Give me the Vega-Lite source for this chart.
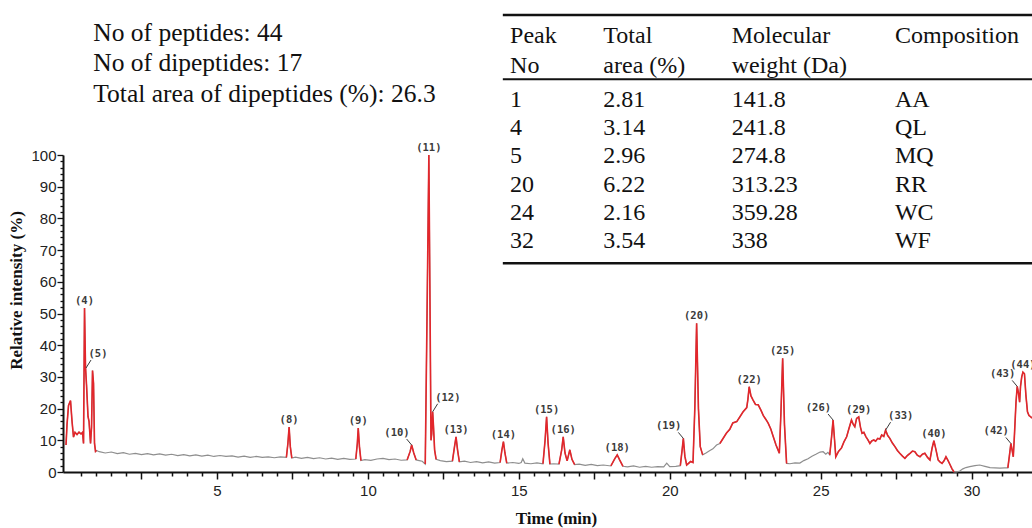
{
  "$schema": "https://vega.github.io/schema/vega-lite/v6.json",
  "width": 969,
  "height": 317,
  "autosize": {"type": "none"},
  "padding": {"left": 63, "top": 155, "right": 0, "bottom": 56},
  "background": "white",
  "config": {"view": {"stroke": null}, "axis": {"grid": false}},
  "datasets": {
    "trace": [
      {"t":0,"i":8.5,"s":"p1"},{"t":0.033,"i":15,"s":"p1"},{"t":0.083,"i":21,"s":"p1"},{"t":0.149,"i":22.5,"s":"p1"},{"t":0.199,"i":16,"s":"p1"},{"t":0.248,"i":11,"s":"p1"},{"t":0.298,"i":12.5,"s":"p1"},{"t":0.364,"i":11.8,"s":"p1"},{"t":0.431,"i":12.6,"s":"p1"},{"t":0.497,"i":12,"s":"p1"},{"t":0.547,"i":12.5,"s":"p1"},{"t":0.58,"i":9,"s":"p1"},{"t":0.613,"i":51.7,"s":"p1"},{"t":0.646,"i":33,"s":"p1"},{"t":0.679,"i":27.5,"s":"p1"},{"t":0.729,"i":17.5,"s":"p1"},{"t":0.762,"i":16,"s":"p1"},{"t":0.812,"i":9,"s":"p1"},{"t":0.845,"i":14,"s":"p1"},{"t":0.878,"i":32,"s":"p1"},{"t":0.911,"i":28,"s":"p1"},{"t":0.944,"i":9,"s":"p1"},{"t":0.977,"i":6.5,"s":"p1"},{"t":1.01,"i":6.8,"s":"p1"},
      {"t":1.1,"i":6.4,"s":"g"},{"t":1.3,"i":6.0,"s":"g"},{"t":1.5,"i":6.3,"s":"g"},{"t":1.7,"i":5.8,"s":"g"},{"t":1.9,"i":6.1,"s":"g"},{"t":2.1,"i":5.6,"s":"g"},{"t":2.3,"i":5.9,"s":"g"},{"t":2.5,"i":5.5,"s":"g"},{"t":2.7,"i":5.8,"s":"g"},{"t":2.9,"i":5.4,"s":"g"},{"t":3.1,"i":5.7,"s":"g"},{"t":3.3,"i":5.3,"s":"g"},{"t":3.5,"i":5.6,"s":"g"},{"t":3.7,"i":5.2,"s":"g"},{"t":3.9,"i":5.5,"s":"g"},{"t":4.1,"i":5.1,"s":"g"},{"t":4.3,"i":5.4,"s":"g"},{"t":4.5,"i":5.0,"s":"g"},{"t":4.7,"i":5.3,"s":"g"},{"t":4.9,"i":4.9,"s":"g"},{"t":5.1,"i":5.2,"s":"g"},{"t":5.3,"i":4.9,"s":"g"},{"t":5.5,"i":5.1,"s":"g"},{"t":5.7,"i":4.7,"s":"g"},{"t":5.9,"i":5.0,"s":"g"},{"t":6.1,"i":4.6,"s":"g"},{"t":6.3,"i":4.9,"s":"g"},{"t":6.5,"i":4.6,"s":"g"},{"t":6.7,"i":4.8,"s":"g"},{"t":6.9,"i":4.5,"s":"g"},{"t":7.1,"i":4.8,"s":"g"},
      {"t":7.3,"i":4.6,"s":"p8"},{"t":7.35,"i":9,"s":"p8"},{"t":7.39,"i":14.2,"s":"p8"},{"t":7.43,"i":8,"s":"p8"},{"t":7.48,"i":4.4,"s":"p8"},
      {"t":7.6,"i":4.7,"s":"g"},{"t":7.8,"i":4.3,"s":"g"},{"t":8.0,"i":4.6,"s":"g"},{"t":8.2,"i":4.2,"s":"g"},{"t":8.4,"i":4.5,"s":"g"},{"t":8.6,"i":4.1,"s":"g"},{"t":8.8,"i":4.4,"s":"g"},{"t":9.0,"i":4.0,"s":"g"},{"t":9.2,"i":4.3,"s":"g"},{"t":9.4,"i":4.0,"s":"g"},
      {"t":9.6,"i":4.1,"s":"p9"},{"t":9.65,"i":9,"s":"p9"},{"t":9.68,"i":13.9,"s":"p9"},{"t":9.72,"i":8,"s":"p9"},{"t":9.77,"i":3.6,"s":"p9"},
      {"t":9.9,"i":3.9,"s":"g"},{"t":10.1,"i":3.7,"s":"g"},{"t":10.3,"i":4.1,"s":"g"},{"t":10.5,"i":4.3,"s":"g"},{"t":10.7,"i":3.9,"s":"g"},{"t":10.9,"i":4.1,"s":"g"},{"t":11.1,"i":3.7,"s":"g"},
      {"t":11.3,"i":3.8,"s":"p10"},{"t":11.4,"i":6.5,"s":"p10"},{"t":11.45,"i":8.5,"s":"p10"},{"t":11.52,"i":6,"s":"p10"},{"t":11.6,"i":3.8,"s":"p10"},
      {"t":11.7,"i":3.6,"s":"g"},{"t":11.8,"i":3.4,"s":"g"},
      {"t":11.9,"i":2.5,"s":"p11"},{"t":11.96,"i":50,"s":"p11"},{"t":12.02,"i":100,"s":"p11"},{"t":12.06,"i":50,"s":"p11"},{"t":12.09,"i":10,"s":"p11"},{"t":12.115,"i":12,"s":"p11"},{"t":12.146,"i":19,"s":"p11"},{"t":12.17,"i":15,"s":"p11"},{"t":12.21,"i":7,"s":"p11"},{"t":12.26,"i":4.0,"s":"p11"},
      {"t":12.4,"i":3.6,"s":"g"},{"t":12.6,"i":3.3,"s":"g"},
      {"t":12.8,"i":3.4,"s":"p13"},{"t":12.87,"i":8,"s":"p13"},{"t":12.92,"i":11.1,"s":"p13"},{"t":12.97,"i":7,"s":"p13"},{"t":13.03,"i":3.2,"s":"p13"},
      {"t":13.2,"i":3.4,"s":"g"},{"t":13.4,"i":3.0,"s":"g"},{"t":13.6,"i":3.3,"s":"g"},{"t":13.8,"i":2.9,"s":"g"},{"t":14.0,"i":3.2,"s":"g"},{"t":14.2,"i":2.8,"s":"g"},
      {"t":14.38,"i":3.0,"s":"p14"},{"t":14.44,"i":7,"s":"p14"},{"t":14.49,"i":9.6,"s":"p14"},{"t":14.54,"i":6,"s":"p14"},{"t":14.6,"i":2.8,"s":"p14"},
      {"t":14.8,"i":3.0,"s":"g"},{"t":15.0,"i":2.7,"s":"g"},{"t":15.08,"i":3.0,"s":"g"},{"t":15.13,"i":4.2,"s":"g"},{"t":15.2,"i":2.8,"s":"g"},{"t":15.4,"i":2.6,"s":"g"},{"t":15.6,"i":2.9,"s":"g"},
      {"t":15.8,"i":2.6,"s":"p15"},{"t":15.87,"i":10,"s":"p15"},{"t":15.92,"i":17.4,"s":"p15"},{"t":15.97,"i":9,"s":"p15"},{"t":16.03,"i":2.5,"s":"p15"},
      {"t":16.15,"i":2.6,"s":"g"},
      {"t":16.33,"i":2.5,"s":"p16"},{"t":16.42,"i":7,"s":"p16"},{"t":16.47,"i":11.1,"s":"p16"},{"t":16.53,"i":6,"s":"p16"},{"t":16.6,"i":3.5,"s":"p16"},{"t":16.69,"i":7,"s":"p16"},{"t":16.76,"i":4,"s":"p16"},{"t":16.85,"i":2.3,"s":"p16"},
      {"t":17.0,"i":2.5,"s":"g"},{"t":17.2,"i":2.1,"s":"g"},{"t":17.4,"i":2.4,"s":"g"},{"t":17.6,"i":2.0,"s":"g"},{"t":17.8,"i":2.2,"s":"g"},
      {"t":18.05,"i":1.9,"s":"p18"},{"t":18.18,"i":4.2,"s":"p18"},{"t":18.26,"i":5.4,"s":"p18"},{"t":18.34,"i":3.8,"s":"p18"},{"t":18.45,"i":1.8,"s":"p18"},
      {"t":18.6,"i":1.6,"s":"g"},{"t":18.8,"i":1.9,"s":"g"},{"t":19.0,"i":1.5,"s":"g"},{"t":19.2,"i":1.8,"s":"g"},{"t":19.4,"i":1.5,"s":"g"},{"t":19.6,"i":1.7,"s":"g"},{"t":19.8,"i":1.6,"s":"g"},{"t":19.9,"i":2.8,"s":"g"},{"t":20.0,"i":1.7,"s":"g"},{"t":20.2,"i":1.8,"s":"g"},
      {"t":20.35,"i":2.0,"s":"p19"},{"t":20.41,"i":7,"s":"p19"},{"t":20.45,"i":10.6,"s":"p19"},{"t":20.5,"i":5,"s":"p19"},{"t":20.56,"i":2.2,"s":"p19"},{"t":20.69,"i":3.3,"s":"p19"},{"t":20.77,"i":3.0,"s":"p19"},{"t":20.83,"i":20,"s":"p19"},{"t":20.89,"i":46.9,"s":"p19"},{"t":20.95,"i":20,"s":"p19"},{"t":21.01,"i":8,"s":"p19"},{"t":21.09,"i":5.4,"s":"p19"},
      {"t":21.2,"i":6.0,"s":"g"},{"t":21.33,"i":6.8,"s":"g"},{"t":21.43,"i":7.3,"s":"g"},{"t":21.55,"i":8.5,"s":"g"},
      {"t":21.66,"i":9.0,"s":"p22"},{"t":21.76,"i":10.5,"s":"p22"},{"t":21.88,"i":12.3,"s":"p22"},{"t":21.99,"i":13.5,"s":"p22"},{"t":22.09,"i":15.5,"s":"p22"},{"t":22.22,"i":15.9,"s":"p22"},{"t":22.33,"i":17.5,"s":"p22"},{"t":22.43,"i":19,"s":"p22"},{"t":22.55,"i":20.3,"s":"p22"},{"t":22.59,"i":23,"s":"p22"},{"t":22.63,"i":26.9,"s":"p22"},{"t":22.69,"i":24,"s":"p22"},{"t":22.76,"i":22.7,"s":"p22"},{"t":22.84,"i":21.3,"s":"p22"},{"t":22.93,"i":21.2,"s":"p22"},{"t":23.02,"i":19.5,"s":"p22"},{"t":23.1,"i":17.8,"s":"p22"},{"t":23.19,"i":16.5,"s":"p22"},{"t":23.26,"i":15.4,"s":"p22"},{"t":23.35,"i":13.5,"s":"p22"},{"t":23.43,"i":11.1,"s":"p22"},{"t":23.52,"i":8.5,"s":"p22"},{"t":23.63,"i":5.9,"s":"p22"},{"t":23.68,"i":18,"s":"p22"},{"t":23.74,"i":35.9,"s":"p22"},{"t":23.8,"i":15,"s":"p22"},{"t":23.87,"i":2.7,"s":"p22"},
      {"t":23.98,"i":2.6,"s":"g"},{"t":24.15,"i":2.9,"s":"g"},{"t":24.31,"i":2.8,"s":"g"},{"t":24.44,"i":3.6,"s":"g"},{"t":24.58,"i":4.2,"s":"g"},{"t":24.71,"i":5.0,"s":"g"},{"t":24.84,"i":5.6,"s":"g"},{"t":24.98,"i":6.3,"s":"g"},{"t":25.08,"i":6.4,"s":"g"},{"t":25.17,"i":5.6,"s":"g"},{"t":25.24,"i":6.2,"s":"g"},
      {"t":25.3,"i":5.4,"s":"p26"},{"t":25.36,"i":11,"s":"p26"},{"t":25.41,"i":16.4,"s":"p26"},{"t":25.46,"i":10,"s":"p26"},{"t":25.5,"i":4.8,"s":"p26"},{"t":25.59,"i":6.5,"s":"p26"},{"t":25.69,"i":7.6,"s":"p26"},{"t":25.77,"i":9.5,"s":"p26"},{"t":25.86,"i":11.1,"s":"p26"},{"t":25.93,"i":13.5,"s":"p26"},{"t":26.02,"i":16.4,"s":"p26"},{"t":26.08,"i":15.0,"s":"p26"},{"t":26.13,"i":14.3,"s":"p26"},{"t":26.19,"i":16.9,"s":"p26"},{"t":26.26,"i":17.4,"s":"p26"},{"t":26.32,"i":14,"s":"p26"},{"t":26.37,"i":12.2,"s":"p26"},{"t":26.43,"i":12.5,"s":"p26"},{"t":26.5,"i":11.1,"s":"p26"},{"t":26.56,"i":10.2,"s":"p26"},{"t":26.63,"i":9.0,"s":"p26"},{"t":26.69,"i":9.8,"s":"p26"},{"t":26.76,"i":10.1,"s":"p26"},{"t":26.82,"i":9.7,"s":"p26"},{"t":26.89,"i":10.6,"s":"p26"},{"t":26.96,"i":10.4,"s":"p26"},{"t":27.02,"i":11.7,"s":"p26"},{"t":27.09,"i":11.2,"s":"p26"},{"t":27.15,"i":13.2,"s":"p26"},{"t":27.22,"i":11.5,"s":"p26"},{"t":27.29,"i":10.6,"s":"p26"},{"t":27.37,"i":9.2,"s":"p26"},{"t":27.46,"i":8.0,"s":"p26"},{"t":27.54,"i":6.8,"s":"p26"},{"t":27.62,"i":5.9,"s":"p26"},{"t":27.71,"i":5.0,"s":"p26"},{"t":27.79,"i":4.3,"s":"p26"},{"t":27.87,"i":5.2,"s":"p26"},{"t":27.96,"i":5.9,"s":"p26"},{"t":28.04,"i":6.6,"s":"p26"},{"t":28.12,"i":6.4,"s":"p26"},{"t":28.2,"i":5.3,"s":"p26"},{"t":28.29,"i":4.8,"s":"p26"},{"t":28.37,"i":5.6,"s":"p26"},{"t":28.45,"i":5.9,"s":"p26"},{"t":28.54,"i":4.6,"s":"p26"},{"t":28.62,"i":3.8,"s":"p26"},{"t":28.69,"i":7.5,"s":"p26"},{"t":28.75,"i":9.9,"s":"p26"},{"t":28.82,"i":7,"s":"p26"},{"t":28.89,"i":3.8,"s":"p26"},{"t":28.95,"i":3.2,"s":"p26"},{"t":29.02,"i":2.7,"s":"p26"},{"t":29.09,"i":3.6,"s":"p26"},{"t":29.15,"i":4.8,"s":"p26"},{"t":29.22,"i":3.6,"s":"p26"},{"t":29.29,"i":2.2,"s":"p26"},{"t":29.35,"i":1.0,"s":"p26"},{"t":29.42,"i":0.0,"s":"p26"},
      {"t":29.51,"i":0.0,"s":"g"},{"t":29.61,"i":0.3,"s":"g"},{"t":29.71,"i":1.0,"s":"g"},{"t":29.81,"i":1.4,"s":"g"},{"t":29.94,"i":1.7,"s":"g"},{"t":30.11,"i":2.0,"s":"g"},{"t":30.27,"i":2.2,"s":"g"},{"t":30.44,"i":1.8,"s":"g"},{"t":30.61,"i":1.4,"s":"g"},{"t":30.77,"i":1.3,"s":"g"},{"t":30.94,"i":1.2,"s":"g"},{"t":31.1,"i":1.3,"s":"g"},
      {"t":31.2,"i":1.3,"s":"p42"},{"t":31.25,"i":5,"s":"p42"},{"t":31.3,"i":9,"s":"p42"},{"t":31.34,"i":7,"s":"p42"},{"t":31.38,"i":4.8,"s":"p42"},{"t":31.42,"i":12,"s":"p42"},{"t":31.47,"i":22,"s":"p42"},{"t":31.51,"i":27,"s":"p42"},{"t":31.55,"i":25,"s":"p42"},{"t":31.59,"i":22,"s":"p42"},{"t":31.62,"i":27,"s":"p42"},{"t":31.66,"i":30,"s":"p42"},{"t":31.7,"i":31.5,"s":"p42"},{"t":31.75,"i":31,"s":"p42"},{"t":31.8,"i":24,"s":"p42"},{"t":31.85,"i":19,"s":"p42"},{"t":31.9,"i":17.8,"s":"p42"},{"t":31.96,"i":17.4,"s":"p42"},{"t":32.0,"i":17.0,"s":"p42"}
    ],
    "peaks": [
      {"id":"(4)","t":0.613,"h":51.7,"pos":"top"},
      {"id":"(5)","t":0.662,"h":32.8,"pos":"right"},
      {"id":"(8)","t":7.39,"h":14.2,"pos":"top"},
      {"id":"(9)","t":9.68,"h":13.9,"pos":"top"},
      {"id":"(10)","t":11.45,"h":8.5,"pos":"left"},
      {"id":"(11)","t":12.02,"h":100,"pos":"top"},
      {"id":"(12)","t":12.146,"h":19,"pos":"right"},
      {"id":"(13)","t":12.92,"h":11.1,"pos":"top"},
      {"id":"(14)","t":14.49,"h":9.6,"pos":"top"},
      {"id":"(15)","t":15.92,"h":17.4,"pos":"top"},
      {"id":"(16)","t":16.47,"h":11.1,"pos":"top"},
      {"id":"(18)","t":18.26,"h":5.4,"pos":"top"},
      {"id":"(19)","t":20.45,"h":10.6,"pos":"left"},
      {"id":"(20)","t":20.89,"h":46.9,"pos":"top"},
      {"id":"(22)","t":22.63,"h":26.9,"pos":"top"},
      {"id":"(25)","t":23.74,"h":35.9,"pos":"top"},
      {"id":"(26)","t":25.41,"h":16.4,"pos":"left"},
      {"id":"(29)","t":26.26,"h":17.4,"pos":"top"},
      {"id":"(33)","t":27.15,"h":13.2,"pos":"right"},
      {"id":"(40)","t":28.75,"h":9.9,"pos":"top"},
      {"id":"(42)","t":31.3,"h":9,"pos":"left"},
      {"id":"(43)","t":31.51,"h":27,"pos":"left"},
      {"id":"(44)","t":31.7,"h":31.5,"pos":"top"}
    ],
    "table": [
      {"row":1,"peak":"1","area":"2.81","mw":"141.8","comp":"AA"},
      {"row":2,"peak":"4","area":"3.14","mw":"241.8","comp":"QL"},
      {"row":3,"peak":"5","area":"2.96","mw":"274.8","comp":"MQ"},
      {"row":4,"peak":"20","area":"6.22","mw":"313.23","comp":"RR"},
      {"row":5,"peak":"24","area":"2.16","mw":"359.28","comp":"WC"},
      {"row":6,"peak":"32","area":"3.54","mw":"338","comp":"WF"}
    ],
    "one": [{}]
  },
  "layer": [
    {
      "layer": [
        {
          "data": {"name": "trace"},
          "mark": {"type": "line", "color": "#8e8e8e", "strokeWidth": 1.2},
          "encoding": {
            "x": {"field": "t", "type": "quantitative", "scale": {"domain": [-0.1, 32], "nice": false, "zero": false},
              "axis": {"title": "Time (min)", "tickCount": 500, "values": [0.5,1,1.5,2,2.5,3,3.5,4,4.5,5,5.5,6,6.5,7,7.5,8,8.5,9,9.5,10,10.5,11,11.5,12,12.5,13,13.5,14,14.5,15,15.5,16,16.5,17,17.5,18,18.5,19,19.5,20,20.5,21,21.5,22,22.5,23,23.5,24,24.5,25,25.5,26,26.5,27,27.5,28,28.5,29,29.5,30,30.5,31,31.5],
                "labelExpr": "datum.value % 5 === 0 ? '' + datum.value : ''", "labelOverlap": false, "labelFlush": false,
                "tickSize": {"condition": {"test": "datum.value % 2.5 === 0", "value": 7}, "value": 4},
                "tickColor": "#111", "tickWidth": 1.5, "domainColor": "#111", "domainWidth": 2,
                "labelFont": "Liberation Sans", "labelFontSize": 15, "labelColor": "#222", "labelPadding": 4,
                "titleFont": "Liberation Serif", "titleFontSize": 17, "titleFontWeight": "bold", "titleColor": "#111", "titlePadding": 12, "titleX": 493}},
            "y": {"field": "i", "type": "quantitative", "scale": {"domain": [0, 100], "nice": false},
              "axis": {"title": "Relative intensity (%)", "tickCount": 500, "values": [0,2,4,6,8,10,12,14,16,18,20,22,24,26,28,30,32,34,36,38,40,42,44,46,48,50,52,54,56,58,60,62,64,66,68,70,72,74,76,78,80,82,84,86,88,90,92,94,96,98,100],
                "labelExpr": "datum.value % 10 === 0 ? '' + datum.value : ''", "labelOverlap": false, "labelFlush": false,
                "tickSize": {"condition": {"test": "datum.value % 10 === 0", "value": 6}, "value": 3},
                "tickColor": "#111", "tickWidth": 1.3, "domainColor": "#111", "domainWidth": 2,
                "labelFont": "Liberation Sans", "labelFontSize": 15, "labelColor": "#222", "labelPadding": 1,
                "titleFont": "Liberation Serif", "titleFontSize": 17, "titleFontWeight": "bold", "titleColor": "#111", "titlePadding": 5, "titleY": 135}}
          }
        },
        {
          "data": {"name": "trace"},
          "transform": [{"filter": "datum.s !== 'g'"}],
          "mark": {"type": "line", "color": "#e3262b", "strokeWidth": 1.6},
          "encoding": {
            "x": {"field": "t", "type": "quantitative"},
            "y": {"field": "i", "type": "quantitative"},
            "detail": {"field": "s"}
          }
        },
        {
          "data": {"name": "peaks"},
          "transform": [{"filter": "datum.pos === 'top'"}],
          "mark": {"type": "text", "font": "DejaVu Sans Mono", "fontWeight": "bold", "fontSize": 10.5, "color": "#3a3a3a", "baseline": "middle", "align": "center", "dy": -7},
          "encoding": {
            "x": {"field": "t", "type": "quantitative"},
            "y": {"field": "h", "type": "quantitative"},
            "text": {"field": "id"}
          }
        },
        {
          "data": {"name": "peaks"},
          "transform": [{"filter": "datum.pos === 'left'"}],
          "mark": {"type": "text", "font": "DejaVu Sans Mono", "fontWeight": "bold", "fontSize": 10.5, "color": "#3a3a3a", "baseline": "middle", "align": "right", "dx": -2, "dy": -12},
          "encoding": {
            "x": {"field": "t", "type": "quantitative"},
            "y": {"field": "h", "type": "quantitative"},
            "text": {"field": "id"}
          }
        },
        {
          "data": {"name": "peaks"},
          "transform": [{"filter": "datum.pos === 'right'"}],
          "mark": {"type": "text", "font": "DejaVu Sans Mono", "fontWeight": "bold", "fontSize": 10.5, "color": "#3a3a3a", "baseline": "middle", "align": "left", "dx": 2.5, "dy": -14},
          "encoding": {
            "x": {"field": "t", "type": "quantitative"},
            "y": {"field": "h", "type": "quantitative"},
            "text": {"field": "id"}
          }
        },
        {
          "data": {"name": "peaks"},
          "transform": [{"filter": "datum.pos === 'left'"}],
          "mark": {"type": "rule", "color": "#3a3a3a", "strokeWidth": 1, "x2Offset": -5, "y2Offset": -6},
          "encoding": {
            "x": {"field": "t", "type": "quantitative"},
            "y": {"field": "h", "type": "quantitative"},
            "x2": {"field": "t"},
            "y2": {"field": "h"}
          }
        },
        {
          "data": {"name": "peaks"},
          "transform": [{"filter": "datum.pos === 'right'"}],
          "mark": {"type": "rule", "color": "#3a3a3a", "strokeWidth": 1, "x2Offset": 5, "y2Offset": -8},
          "encoding": {
            "x": {"field": "t", "type": "quantitative"},
            "y": {"field": "h", "type": "quantitative"},
            "x2": {"field": "t"},
            "y2": {"field": "h"}
          }
        }
      ]
    },
    {
      "layer": [
        {
          "data": {"name": "table"},
          "mark": {"type": "text", "align": "left", "baseline": "alphabetic", "font": "Liberation Serif", "fontSize": 24, "color": "#111"},
          "encoding": {
            "x": {"datum": 14.71, "type": "quantitative"},
            "y": {"field": "row", "type": "quantitative", "scale": {"domain": [2.705, 13.895], "reverse": true, "nice": false, "zero": false}, "axis": null},
            "text": {"field": "peak"}
          }
        },
        {
          "data": {"name": "table"},
          "mark": {"type": "text", "align": "left", "baseline": "alphabetic", "font": "Liberation Serif", "fontSize": 24, "color": "#111"},
          "encoding": {
            "x": {"datum": 17.8, "type": "quantitative"},
            "y": {"field": "row", "type": "quantitative", "axis": null},
            "text": {"field": "area"}
          }
        },
        {
          "data": {"name": "table"},
          "mark": {"type": "text", "align": "left", "baseline": "alphabetic", "font": "Liberation Serif", "fontSize": 24, "color": "#111"},
          "encoding": {
            "x": {"datum": 22.05, "type": "quantitative"},
            "y": {"field": "row", "type": "quantitative", "axis": null},
            "text": {"field": "mw"}
          }
        },
        {
          "data": {"name": "table"},
          "mark": {"type": "text", "align": "left", "baseline": "alphabetic", "font": "Liberation Serif", "fontSize": 24, "color": "#111"},
          "encoding": {
            "x": {"datum": 27.46, "type": "quantitative"},
            "y": {"field": "row", "type": "quantitative", "axis": null},
            "text": {"field": "comp"}
          }
        },
        {
          "data": {"name": "one"},
          "mark": {"type": "text", "text": ["Peak", "No"], "lineHeight": 30, "align": "left", "baseline": "alphabetic", "font": "Liberation Serif", "fontSize": 24, "color": "#111"},
          "encoding": {"x": {"datum": 14.71, "type": "quantitative"}, "y": {"datum": -1.238, "type": "quantitative", "axis": null}}
        },
        {
          "data": {"name": "one"},
          "mark": {"type": "text", "text": ["Total", "area (%)"], "lineHeight": 30, "align": "left", "baseline": "alphabetic", "font": "Liberation Serif", "fontSize": 24, "color": "#111"},
          "encoding": {"x": {"datum": 17.8, "type": "quantitative"}, "y": {"datum": -1.238, "type": "quantitative", "axis": null}}
        },
        {
          "data": {"name": "one"},
          "mark": {"type": "text", "text": ["Molecular", "weight (Da)"], "lineHeight": 30, "align": "left", "baseline": "alphabetic", "font": "Liberation Serif", "fontSize": 24, "color": "#111"},
          "encoding": {"x": {"datum": 22.05, "type": "quantitative"}, "y": {"datum": -1.238, "type": "quantitative", "axis": null}}
        },
        {
          "data": {"name": "one"},
          "mark": {"type": "text", "text": "Composition", "align": "left", "baseline": "alphabetic", "font": "Liberation Serif", "fontSize": 24, "color": "#111"},
          "encoding": {"x": {"datum": 27.46, "type": "quantitative"}, "y": {"datum": -1.238, "type": "quantitative", "axis": null}}
        },
        {
          "data": {"name": "one"},
          "mark": {"type": "text", "text": ["No of peptides: 44", "No of dipeptides: 17", "Total area of dipeptides (%): 26.3"], "lineHeight": 30.5, "align": "left", "baseline": "alphabetic", "font": "Liberation Serif", "fontSize": 25.5, "color": "#111"},
          "encoding": {"x": {"datum": 0.904, "type": "quantitative"}, "y": {"datum": -1.33, "type": "quantitative", "axis": null}}
        },
        {
          "data": {"name": "one"},
          "mark": {"type": "rule", "color": "#111", "strokeWidth": 2.5},
          "encoding": {"x": {"datum": 14.47, "type": "quantitative"}, "x2": {"datum": 32.0}, "y": {"datum": -2.237, "type": "quantitative", "axis": null}}
        },
        {
          "data": {"name": "one"},
          "mark": {"type": "rule", "color": "#111", "strokeWidth": 2},
          "encoding": {"x": {"datum": 14.47, "type": "quantitative"}, "x2": {"datum": 32.0}, "y": {"datum": 0.033, "type": "quantitative", "axis": null}}
        },
        {
          "data": {"name": "one"},
          "mark": {"type": "rule", "color": "#111", "strokeWidth": 2.5},
          "encoding": {"x": {"datum": 14.47, "type": "quantitative"}, "x2": {"datum": 32.0}, "y": {"datum": 6.528, "type": "quantitative", "axis": null}}
        }
      ]
    }
  ],
  "resolve": {"scale": {"y": "independent"}}
}
